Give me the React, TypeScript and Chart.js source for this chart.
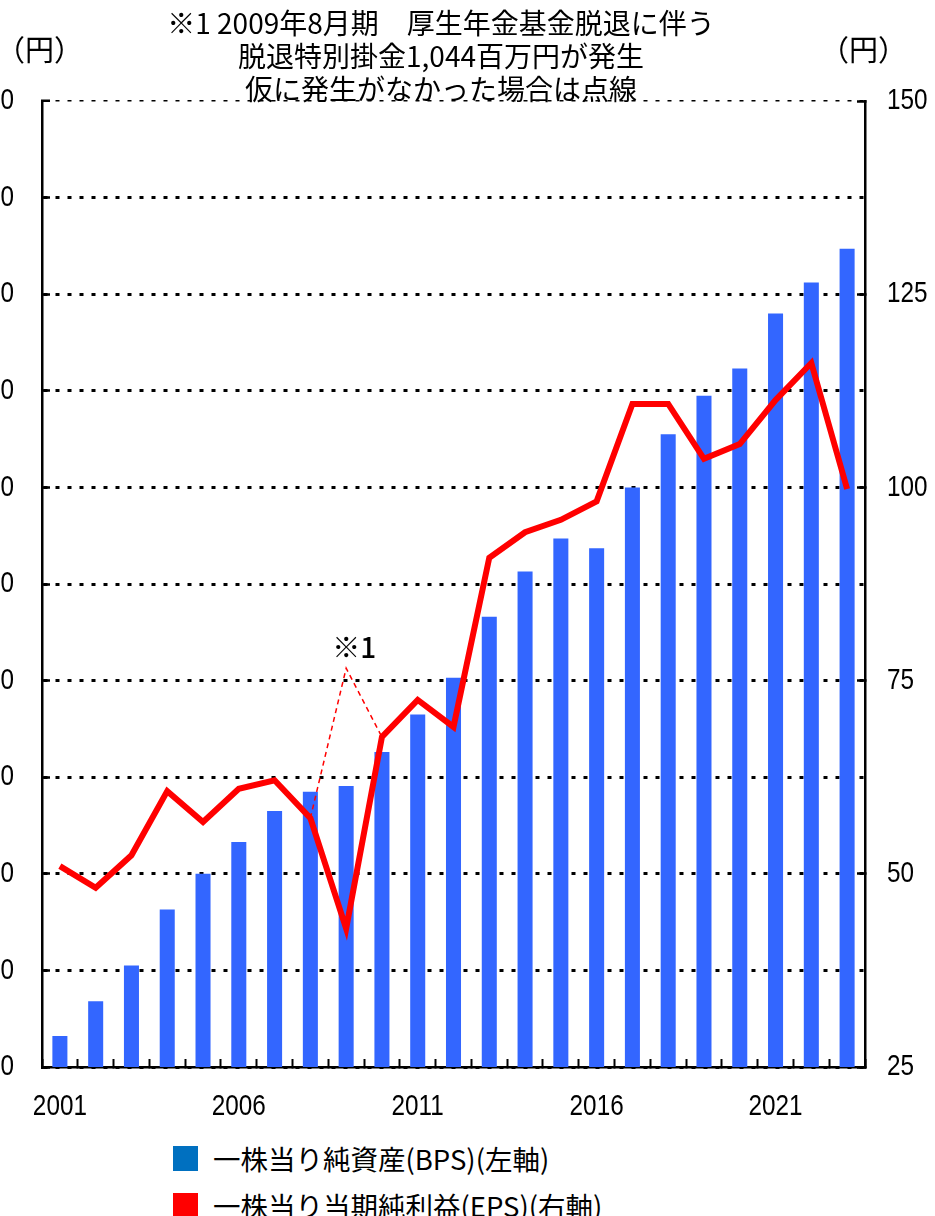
import React, { useEffect, useRef } from "react";
import { Chart, registerables } from "chart.js";

Chart.register(...registerables);

const years = [
  "2001", "2002", "2003", "2004", "2005", "2006", "2007", "2008", "2009", "2010",
  "2011", "2012", "2013", "2014", "2015", "2016", "2017", "2018", "2019", "2020",
  "2021", "2022", "2023",
];
const shownYears = ["2001", "2006", "2011", "2016", "2021"];

// 一株当り純資産 (BPS) — left axis
const bps = [
  532, 568, 605, 663, 700, 733, 765, 785, 791, 826,
  865, 903, 966, 1013, 1047, 1037, 1100, 1155, 1195, 1223,
  1280, 1312, 1347,
];
// 一株当り当期純利益 (EPS) — right axis
const eps = [
  51.0, 48.2, 52.4, 60.7, 56.7, 61.0, 62.1, 57.2, 42.9, 67.7,
  72.5, 69.0, 90.9, 94.2, 95.8, 98.2, 110.8, 110.8, 103.7, 105.6,
  111.3, 116.1, 99.8,
];
// 仮に発生がなかった場合 (dotted)
const epsHypo = [
  null, null, null, null, null, null, null, 57.2, 76.6, 67.7,
  null, null, null, null, null, null, null, null, null, null,
  null, null, null,
];

const leftMin = 500;
const leftMax = 1500;
const leftStep = 100;
const rightMin = 25;
const rightMax = 150;
const rightStep = 25;

const titleLines = [
  "※1 2009年8月期　厚生年金基金脱退に伴う",
  "脱退特別掛金1,044百万円が発生",
  "仮に発生がなかった場合は点線",
];
const legendItems = [
  { label: "一株当り純資産(BPS)(左軸)", color: "#0070C0" },
  { label: "一株当り当期純利益(EPS)(右軸)", color: "#FF0000" },
];
const noteLabel = "※1";
const unitLabel = "（円）";

const JP = '"Noto Sans CJK JP", "Noto Sans", sans-serif';
const NUM = '"Liberation Sans", Arial, sans-serif';
const NUM_SQUEEZE = 0.81;

// draws the axis tick labels (taken from the scales' own ticks) in a condensed form
const tickLabelPlugin = {
  id: "condensedTickLabels",
  afterDraw(chart: any) {
    const { ctx, scales, chartArea } = chart;
    const draw = (text: string, x: number, y: number, align: CanvasTextAlign) => {
      if (!text) return;
      ctx.save();
      ctx.translate(x, y);
      ctx.scale(NUM_SQUEEZE, 1);
      ctx.font = `30px ${NUM}`;
      ctx.fillStyle = "#000";
      ctx.textAlign = align;
      ctx.textBaseline = "middle";
      ctx.fillText(text, 0, 0);
      ctx.restore();
    };
    scales.y.ticks.forEach((t: any, i: number) => {
      draw(String(t.label), chartArea.left - 28, scales.y.getPixelForTick(i), "right");
    });
    scales.y1.ticks.forEach((t: any, i: number) => {
      draw(String(t.label), chartArea.right + 22, scales.y1.getPixelForTick(i), "left");
    });
    scales.x.ticks.forEach((t: any, i: number) => {
      draw(String(t.label), scales.x.getPixelForTick(i), chartArea.bottom + 40, "center");
    });
  },
};

const notePlugin = {
  id: "noteLabel",
  afterDatasetsDraw(chart: any) {
    const { ctx, scales } = chart;
    const x = scales.x.getPixelForValue(8) + 8;
    const y = scales.y1.getPixelForValue(76.6) - 21;
    ctx.save();
    ctx.font = `500 28px ${JP}`;
    ctx.fillStyle = "#000";
    ctx.textAlign = "center";
    ctx.textBaseline = "middle";
    ctx.fillText(noteLabel, x, y);
    ctx.restore();
  },
};

export default function App() {
  const ref = useRef<HTMLCanvasElement>(null);

  useEffect(() => {
    if (!ref.current) return;
    const chart = new Chart(ref.current, {
      type: "bar",
      data: {
        labels: years,
        datasets: [
          {
            type: "line",
            label: "EPS",
            data: eps,
            yAxisID: "y1",
            borderColor: "#FF0000",
            borderWidth: 6,
            pointRadius: 0,
            borderJoinStyle: "miter",
            tension: 0,
            order: 0,
          } as any,
          {
            type: "line",
            label: "EPS (hypothetical)",
            data: epsHypo,
            yAxisID: "y1",
            borderColor: "#FF0000",
            borderWidth: 1.5,
            borderDash: [5, 4],
            pointRadius: 0,
            spanGaps: false,
            tension: 0,
            order: 1,
          } as any,
          {
            type: "bar",
            label: "BPS",
            data: bps,
            yAxisID: "y",
            backgroundColor: "#3366FF",
            categoryPercentage: 1,
            barPercentage: 0.42,
            order: 2,
          } as any,
        ],
      },
      options: {
        animation: false,
        responsive: false,
        maintainAspectRatio: false,
        layout: { padding: { top: 101, bottom: 0, left: 0, right: 0 } },
        plugins: {
          legend: { display: false },
          title: { display: false },
          tooltip: { enabled: false },
        },
        scales: {
          x: {
            grid: {
              offset: true,
              drawOnChartArea: false,
              drawTicks: true,
              tickLength: -8,
              tickWidth: 2,
              tickColor: "#000",
              color: "#000",
            },
            border: { display: true, color: "#000", width: 2.5 },
            ticks: {
              display: false,
              autoSkip: false,
              maxRotation: 0,
              callback: (_v: any, i: number) =>
                shownYears.includes(years[i]) ? years[i] : "",
            },
            afterFit: (s: any) => {
              s.height = 60;
            },
          },
          y: {
            position: "left",
            min: leftMin,
            max: leftMax,
            ticks: {
              display: false,
              stepSize: leftStep,
              callback: (v: any) => Number(v).toLocaleString("en-US"),
            },
            grid: {
              color: "#000",
              lineWidth: (c: any) => (c.index === 10 ? 1.5 : 3),
              drawTicks: true,
              tickLength: -8,
              tickWidth: 2.5,
              tickColor: "#000",
              tickBorderDash: [],
            },
            border: { display: true, color: "#000", width: 2.5, dash: [4, 8] },
            afterFit: (s: any) => {
              s.width = 70;
            },
          },
          y1: {
            position: "right",
            min: rightMin,
            max: rightMax,
            ticks: {
              display: false,
              stepSize: rightStep,
            },
            grid: {
              drawOnChartArea: false,
              drawTicks: true,
              tickLength: -8,
              tickWidth: 2.5,
              tickColor: "#000",
            },
            border: { display: true, color: "#000", width: 2.5 },
            afterFit: (s: any) => {
              s.width = 70;
            },
          },
        },
      } as any,
      plugins: [notePlugin, tickLabelPlugin],
    });
    return () => chart.destroy();
  }, []);

  return (
    <div
      style={{
        position: "absolute",
        left: 0,
        top: 0,
        width: 935,
        height: 1216,
        overflow: "hidden",
        background: "#fff",
        fontFamily: JP,
        color: "#000",
      }}
    >
      <canvas
        ref={ref}
        width={963}
        height={1127}
        style={{ position: "absolute", left: -28, top: 0, width: 963, height: 1127 }}
      />
      {titleLines.map((t, i) => (
        <div
          key={i}
          style={{
            position: "absolute",
            left: 241,
            width: 400,
            top: 5 + i * 33,
            whiteSpace: "nowrap",
            fontSize: 28,
            lineHeight: "34px",
            display: "flex",
            justifyContent: "center",
          }}
        >
          {t}
        </div>
      ))}
      <div style={{ position: "absolute", left: -4, top: 29, fontSize: 29, lineHeight: "38px" }}>{unitLabel}</div>
      <div style={{ position: "absolute", left: 820, top: 29, fontSize: 29, lineHeight: "38px" }}>{unitLabel}</div>
      {legendItems.map((it, i) => (
        <div
          key={i}
          style={{
            position: "absolute",
            left: 173,
            top: 1141 + i * 47,
            display: "flex",
            alignItems: "center",
            height: 35,
            whiteSpace: "nowrap",
          }}
        >
          <div style={{ width: 25, height: 25, background: it.color, marginRight: 15 }} />
          <div style={{ fontSize: 27.5, lineHeight: "35px" }}>{it.label}</div>
        </div>
      ))}
    </div>
  );
}
